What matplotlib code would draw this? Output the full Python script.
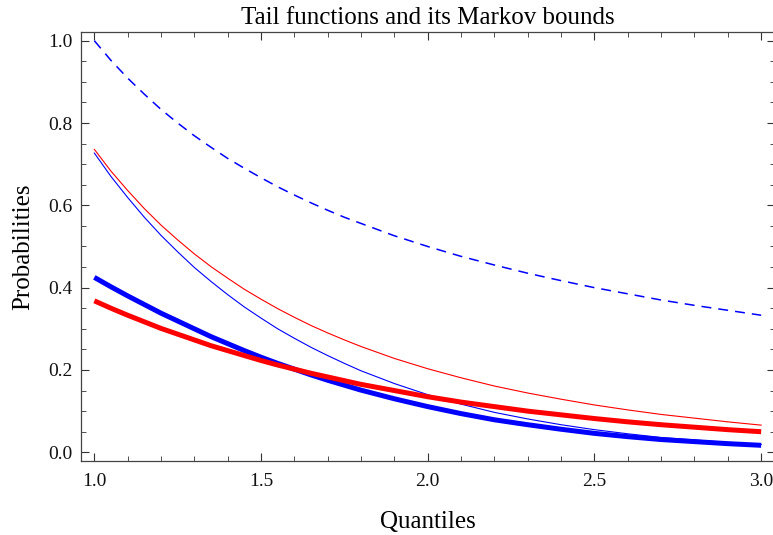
import matplotlib.pyplot as plt
from matplotlib.ticker import MultipleLocator

# Data
quantiles = [1.0, 1.05, 1.1, 1.15, 1.2, 1.25, 1.3, 1.35, 1.4, 1.45, 1.5, 1.55, 1.6, 1.65,
             1.7, 1.75, 1.8, 1.9, 2.0, 2.1, 2.2, 2.3, 2.4, 2.5, 2.6, 2.7, 2.8, 2.9, 3.0]

markov_bound = [1.000, 0.952, 0.909, 0.870, 0.833, 0.800, 0.769, 0.741, 0.714, 0.690, 0.667,
                0.645, 0.625, 0.606, 0.588, 0.571, 0.556, 0.526, 0.500,
                0.476, 0.455, 0.435, 0.417, 0.400, 0.385, 0.370, 0.357, 0.345, 0.333]

tail_red = [0.368, 0.350, 0.333, 0.317, 0.301, 0.287, 0.273, 0.259, 0.247, 0.235, 0.223,
            0.212, 0.202, 0.192, 0.183, 0.174, 0.165, 0.150, 0.135,
            0.122, 0.111, 0.100, 0.091, 0.082, 0.074, 0.067, 0.061, 0.055, 0.050]

bound_red = [0.736, 0.683, 0.636, 0.592, 0.552, 0.516, 0.482, 0.451, 0.423, 0.396, 0.372,
             0.349, 0.328, 0.308, 0.290, 0.273, 0.257, 0.228, 0.203,
             0.181, 0.161, 0.144, 0.129, 0.115, 0.103, 0.092, 0.083, 0.074, 0.066]

tail_blue = [0.425, 0.402, 0.380, 0.359, 0.338, 0.319, 0.300, 0.281, 0.264, 0.247, 0.231,
             0.216, 0.202, 0.188, 0.175, 0.163, 0.151, 0.130, 0.111,
             0.094, 0.079, 0.067, 0.056, 0.046, 0.038, 0.031, 0.026, 0.021, 0.017]

bound_blue = [0.727, 0.670, 0.619, 0.571, 0.527, 0.487, 0.449, 0.415, 0.383, 0.353, 0.326,
              0.300, 0.277, 0.255, 0.235, 0.216, 0.198, 0.167, 0.140,
              0.117, 0.097, 0.081, 0.067, 0.055, 0.045, 0.036, 0.030, 0.024, 0.019]

plt.rcParams["font.family"] = ["Liberation Serif", "DejaVu Serif"]

fig = plt.figure(figsize=(7.73, 5.35), dpi=100)
ax = fig.add_axes([81 / 773, 1 - 460.7 / 535, (774.5 - 81) / 773, (460.7 - 32.3) / 535])

# Markov bound 1/x
ax.plot(quantiles, markov_bound, color="blue", lw=1.1, dashes=(6.5, 4.6))

# thin lines: bounds
ax.plot(quantiles, bound_red, color="red", lw=0.8)
ax.plot(quantiles, bound_blue, color="blue", lw=0.8)

# thick lines: tails
ax.plot(quantiles, tail_blue, color="blue", lw=3.6, solid_capstyle="butt")
ax.plot(quantiles, tail_red, color="red", lw=3.6, solid_capstyle="butt")

ax.set_xlim(0.96, 3.04)
ax.set_ylim(-0.0204, 1.0204)

ax.xaxis.set_major_locator(MultipleLocator(0.5))
ax.xaxis.set_minor_locator(MultipleLocator(0.1))
ax.yaxis.set_major_locator(MultipleLocator(0.2))
ax.yaxis.set_minor_locator(MultipleLocator(0.05))

ax.tick_params(which="both", direction="in", top=True, right=True,
               color="#333333", labelsize=14, labelcolor="#111111")
ax.tick_params(which="major", length=6, width=0.8, pad=9)
ax.tick_params(which="minor", length=3.5, width=0.6)
ax.tick_params(axis="y", which="major", pad=6)

for sp in ax.spines.values():
    sp.set_color("#444444")
    sp.set_linewidth(0.9)

ax.set_title("Tail functions and its Markov bounds", fontsize=18, pad=6)
ax.set_xlabel("Quantiles", fontsize=18, labelpad=15)
ax.set_ylabel("Probabilities", fontsize=18, labelpad=10)

fig.savefig("out.png", dpi=100)
